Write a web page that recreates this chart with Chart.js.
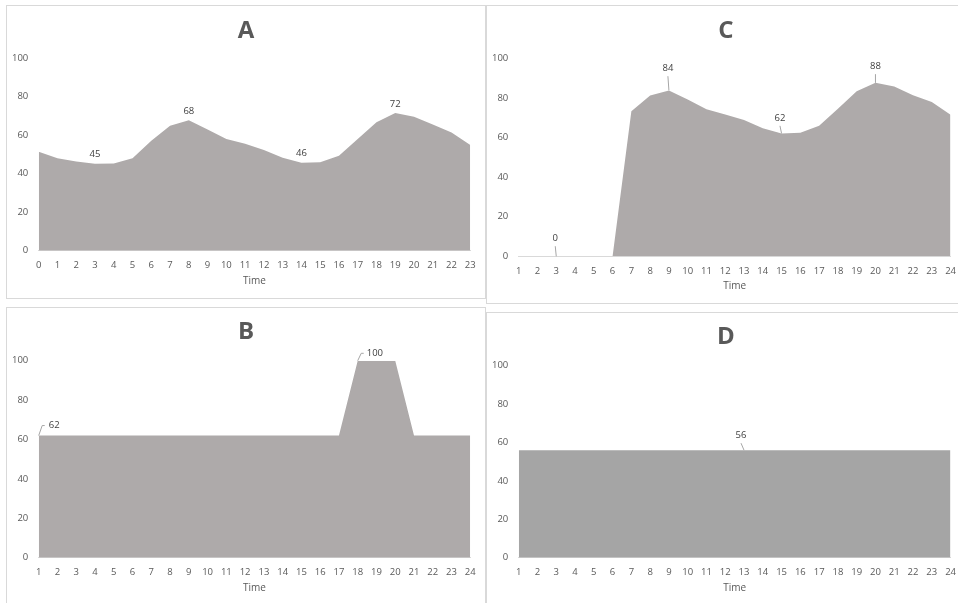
<!DOCTYPE html>
<html>
<head>
<meta charset="utf-8">
<script src="https://cdn.jsdelivr.net/npm/chart.js@4"></script>
<style>
  html, body { margin: 0; padding: 0; background: #fff; overflow: hidden; }
  body { width: 958px; height: 603px; position: relative; }
  .panel { position: absolute; border: 1px solid #d9d9d9; box-sizing: border-box; background: #fff; }
  .panel canvas { position: absolute; left: 0; top: 0; }
</style>
</head>
<body>
<div class="panel" style="left:6px;top:5px;width:480px;height:294px"><canvas id="chartA" width="478" height="292"></canvas></div>
<div class="panel" style="left:486px;top:5px;width:480px;height:299px"><canvas id="chartC" width="478" height="297"></canvas></div>
<div class="panel" style="left:6px;top:307px;width:480px;height:300px"><canvas id="chartB" width="478" height="295"></canvas></div>
<div class="panel" style="left:486px;top:312px;width:480px;height:300px"><canvas id="chartD" width="478" height="290"></canvas></div>
<script>
const hoursA = ["0","1","2","3","4","5","6","7","8","9","10","11","12","13","14","15","16","17","18","19","20","21","22","23"];
const hours = ["1","2","3","4","5","6","7","8","9","10","11","12","13","14","15","16","17","18","19","20","21","22","23","24"];
const yTicks = [0, 20, 40, 60, 80, 100];

const valuesA = [51.4, 48.1, 46.4, 45.2, 45.3, 48.1, 57.1, 64.9, 67.8, 63.0, 58.0, 55.6, 52.3, 48.3, 45.7, 46.0, 49.3, 58.0, 66.8, 71.6, 69.6, 65.6, 61.4, 55.0];
const valuesB = [62, 62, 62, 62, 62, 62, 62, 62, 62, 62, 62, 62, 62, 62, 62, 62, 62, 100, 100, 100, 62, 62, 62, 62];
const valuesC = [0, 0, 0, 0, 0, 0, 73.3, 81.2, 83.8, 79.2, 74.3, 71.6, 68.8, 64.7, 62.0, 62.4, 65.9, 74.5, 83.4, 87.6, 85.8, 81.4, 77.9, 71.5];
const valuesD = [56, 56, 56, 56, 56, 56, 56, 56, 56, 56, 56, 56, 56, 56, 56, 56, 56, 56, 56, 56, 56, 56, 56, 56];

// which points carry a data label
const labelledA = [3, 8, 14, 19];
const labelledB = [0, 17];
const labelledC = [2, 8, 14, 19];
const labelledD = [12];

Chart.defaults.font.family = "'Open Sans', sans-serif";

const pointLabels = {
  id: "pointLabels",
  afterDatasetsDraw(chart, args, opts) {
    const ctx = chart.ctx;
    const pts = chart.getDatasetMeta(0).data;
    const values = chart.data.datasets[0].data;
    ctx.save();
    ctx.font = "9.5px 'Open Sans'";
    ctx.fillStyle = "#404040";
    ctx.strokeStyle = "#a6a6a6";
    ctx.lineWidth = 1;
    ctx.textAlign = "center";
    ctx.textBaseline = "middle";
    opts.items.forEach(({ index, dx, dy, leader }) => {
      const p = pts[index];
      const lx = p.x + dx, ly = p.y + dy;
      if (leader === "line") {
        ctx.beginPath();
        ctx.moveTo(lx, ly + 7.5);
        ctx.lineTo(p.x, p.y);
        ctx.stroke();
      } else if (leader === "elbow") {
        ctx.beginPath();
        ctx.moveTo(p.x, p.y);
        ctx.lineTo(p.x + 3.5, ly);
        ctx.lineTo(p.x + 6, ly);
        ctx.stroke();
      }
      ctx.fillText(String(Math.round(values[index])), lx, ly);
    });
    ctx.restore();
  }
};

function makeChart(id, title, labels, values, fillColor, g, items) {
  return new Chart(document.getElementById(id), {
    type: "line",
    data: {
      labels,
      datasets: [{
        data: values,
        fill: "origin",
        backgroundColor: fillColor,
        borderWidth: 0,
        pointRadius: 0,
        tension: 0,
      }],
    },
    options: {
      responsive: false,
      animation: false,
      devicePixelRatio: 1,
      layout: { padding: { left: 0, right: 0, top: 0, bottom: g.padB } },
      plugins: {
        legend: { display: false },
        tooltip: { enabled: false },
        title: {
          display: true,
          text: title,
          color: "#595959",
          font: { size: 24, weight: "bold", lineHeight: 1.2 },
          padding: { top: g.tTop, bottom: g.tBottom },
        },
        pointLabels: { items },
      },
      scales: {
        x: {
          z: 1,
          grid: { display: false, drawTicks: false },
          border: { display: true, color: "#d9d9d9", width: 1 },
          ticks: { color: "#595959", font: { size: 9.5 }, padding: 9, autoSkip: false, maxRotation: 0 },
          title: { display: true, text: "Time", color: "#595959", font: { size: 10, lineHeight: 1.2 }, padding: 0 },
          afterFit: (s) => { s.height = 36; },
        },
        y: {
          min: 0,
          max: 100,
          grid: { display: false, drawTicks: false },
          border: { display: false },
          ticks: { color: "#595959", font: { size: 9.5 }, padding: 10.4 },
          afterBuildTicks: (s) => { s.ticks = yTicks.map((v) => ({ value: v })); },
          afterFit: (s) => { s.width = 31.7; },
        },
        // empty right-hand gutter so the plot stops short of the frame
        gutter: {
          position: "right",
          min: 0,
          max: 100,
          grid: { display: false, drawTicks: false },
          border: { display: false },
          ticks: { display: false },
          afterFit: (s) => { s.width = g.right; },
        },
      },
    },
    plugins: [pointLabels],
  });
}

makeChart("chartA", "A", hoursA, valuesA, "#aeaaaa",
  { right: 14.7, padB: 11.3, tTop: 10.3, tBottom: 13.2 },
  labelledA.map((i) => ({ index: i, dx: 0, dy: -9, leader: "none" })));

const offsetsC = [
  { dx: -1, dy: -17.6 },
  { dx: -1, dy: -21.7 },
  { dx: -1.6, dy: -15.2 },
  { dx: 0, dy: -16.2 },
];
makeChart("chartC", "C", hours, valuesC, "#aeaaaa",
  { right: 12.7, padB: 10.7, tTop: 10.3, tBottom: 13.2 },
  labelledC.map((i, k) => ({ index: i, dx: offsetsC[k].dx, dy: offsetsC[k].dy, leader: "line" })));

const offsetsB = [
  { dx: 15.6, dy: -10 },
  { dx: 17.2, dy: -7.4 },
];
makeChart("chartB", "B", hours, valuesB, "#aeaaaa",
  { right: 14.7, padB: 9.3, tTop: 9.9, tBottom: 14 },
  labelledB.map((i, k) => ({ index: i, dx: offsetsB[k].dx, dy: offsetsB[k].dy, leader: "elbow" })));

makeChart("chartD", "D", hours, valuesD, "#a5a5a5",
  { right: 12.7, padB: 9.3, tTop: 9.9, tBottom: 14 },
  labelledD.map((i) => ({ index: i, dx: -3, dy: -14.5, leader: "line" })));
</script>
</body>
</html>
